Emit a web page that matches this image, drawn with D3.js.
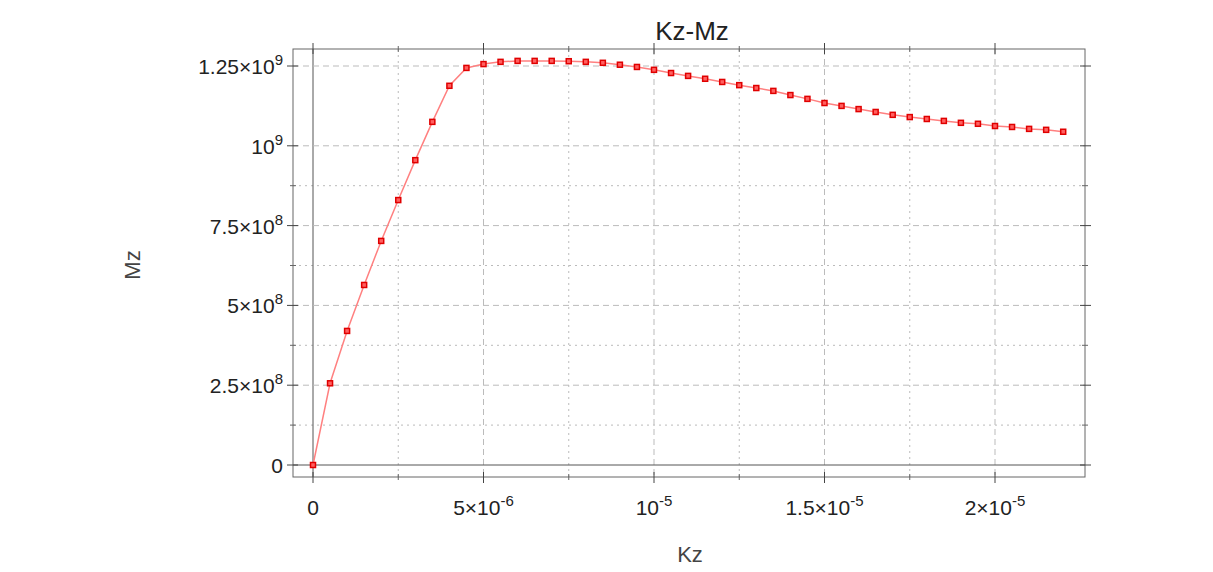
<!DOCTYPE html><html><head><meta charset="utf-8"><script src="https://cdn.jsdelivr.net/npm/d3@7"></script>
<style>body{margin:0;background:#fff}text{font-family:"Liberation Sans",Arial,sans-serif}</style></head><body><svg id="c" width="1213" height="572"></svg><script>
const kz=d3.range(45).map(i=>i*5e-7);
const mz=[0,2.56e8,4.2e8,5.64e8,7.02e8,8.3e8,9.55e8,1.075e9,1.188e9,1.244e9,1.256e9,1.263e9,1.266e9,1.266e9,1.266e9,1.265e9,1.263e9,1.26e9,1.254e9,1.247e9,1.238e9,1.228e9,1.219e9,1.21e9,1.2e9,1.19e9,1.181e9,1.172e9,1.159e9,1.147e9,1.134e9,1.125e9,1.115e9,1.106e9,1.097e9,1.09e9,1.084e9,1.078e9,1.072e9,1.069e9,1.062e9,1.059e9,1.053e9,1.05e9,1.044e9];
const xMajor=[0,5e-6,1e-5,1.5e-5,2e-5], xLabels=[["0",""],["5×10","-6"],["10","-5"],["1.5×10","-5"],["2×10","-5"]];
const yMajor=[0,2.5e8,5e8,7.5e8,1e9,1.25e9], yLabels=[["0",""],["2.5×10","8"],["5×10","8"],["7.5×10","8"],["10","9"],["1.25×10","9"]];
const svg=d3.select("#c");
const L=293,R=1085,T=49,B=477;
const x=d3.scaleLinear().domain([0,2e-5]).range([313,995]);
const y=d3.scaleLinear().domain([0,1.25e9]).range([465,66]);
const xMinor=d3.range(1,9,2).map(i=>i*2.5e-6).filter(v=>x(v)<R);
const yMinor=d3.range(1,5,1).map(i=>i*2.5e8-1.25e8).concat([1.375e9]).filter(v=>y(v)>T);
const g=svg.append("g");
g.selectAll(".xm").data(xMinor).join("line").attr("x1",d=>x(d)).attr("x2",d=>x(d)).attr("y1",T).attr("y2",B).attr("stroke","#bbb").attr("stroke-dasharray","2,4");
g.selectAll(".ym").data(yMinor).join("line").attr("y1",d=>y(d)).attr("y2",d=>y(d)).attr("x1",L).attr("x2",R).attr("stroke","#bbb").attr("stroke-dasharray","2,4");
g.selectAll(".xM").data(xMajor).join("line").attr("x1",d=>x(d)).attr("x2",d=>x(d)).attr("y1",T).attr("y2",B).attr("stroke",d=>d===0?"#555":"#bbb").attr("stroke-dasharray",d=>d===0?null:"6,4");
g.selectAll(".yM").data(yMajor).join("line").attr("y1",d=>y(d)).attr("y2",d=>y(d)).attr("x1",L).attr("x2",R).attr("stroke",d=>d===0?"#555":"#bbb").attr("stroke-dasharray",d=>d===0?null:"6,4");
g.append("rect").attr("x",L).attr("y",T).attr("width",R-L).attr("height",B-T).attr("fill","none").attr("stroke","#666");
g.selectAll(".xt").data(xMajor).join("line").attr("x1",d=>x(d)).attr("x2",d=>x(d)).attr("y1",B-5).attr("y2",B+6).attr("stroke","#444");
g.selectAll(".xt2").data(xMajor).join("line").attr("x1",d=>x(d)).attr("x2",d=>x(d)).attr("y1",T-6).attr("y2",T+5).attr("stroke","#444");
g.selectAll(".xt3").data(xMinor).join("line").attr("x1",d=>x(d)).attr("x2",d=>x(d)).attr("y1",B-3).attr("y2",B+3).attr("stroke","#666");
g.selectAll(".xt4").data(xMinor).join("line").attr("x1",d=>x(d)).attr("x2",d=>x(d)).attr("y1",T-3).attr("y2",T+3).attr("stroke","#666");
g.selectAll(".yt").data(yMajor).join("line").attr("y1",d=>y(d)).attr("y2",d=>y(d)).attr("x1",L-6).attr("x2",L+5).attr("stroke","#444");
g.selectAll(".yt2").data(yMajor).join("line").attr("y1",d=>y(d)).attr("y2",d=>y(d)).attr("x1",R-5).attr("x2",R+6).attr("stroke","#444");
g.selectAll(".yt3").data(yMinor).join("line").attr("y1",d=>y(d)).attr("y2",d=>y(d)).attr("x1",L-3).attr("x2",L+3).attr("stroke","#666");
g.selectAll(".yt4").data(yMinor).join("line").attr("y1",d=>y(d)).attr("y2",d=>y(d)).attr("x1",R-3).attr("x2",R+3).attr("stroke","#666");
function lab(sel,parts){sel.append("tspan").text(parts[0]);if(parts[1])sel.append("tspan").attr("dy",-9).attr("font-size",15).text(parts[1]);}
xMajor.forEach((v,i)=>{const t=g.append("text").attr("x",x(v)).attr("y",B+38).attr("text-anchor","middle").attr("font-size",21).attr("fill","#222");lab(t,xLabels[i]);});
yMajor.forEach((v,i)=>{const t=g.append("text").attr("x",L-10).attr("y",y(v)+8).attr("text-anchor","end").attr("font-size",21).attr("fill","#222");lab(t,yLabels[i]);});
svg.append("text").attr("x",692).attr("y",40).attr("text-anchor","middle").attr("font-size",26).attr("fill","#222").text("Kz-Mz");
svg.append("text").attr("x",690).attr("y",562).attr("text-anchor","middle").attr("font-size",22).attr("fill","#444").text("Kz");
svg.append("text").attr("transform","translate(140,265) rotate(-90)").attr("text-anchor","middle").attr("font-size",22).attr("fill","#444").text("Mz");
const pts=kz.map((k,i)=>[k,mz[i]]);
svg.append("path").attr("d",d3.line().x(d=>x(d[0])).y(d=>y(d[1]))(pts)).attr("fill","none").attr("stroke","#ff8080").attr("stroke-width",1.5);
svg.selectAll(".p").data(pts).join("rect").attr("x",d=>x(d[0])-2.5).attr("y",d=>y(d[1])-2.5).attr("width",5).attr("height",5).attr("fill","#ff6060").attr("stroke","#e00000").attr("stroke-width",1.5);
</script></body></html>
